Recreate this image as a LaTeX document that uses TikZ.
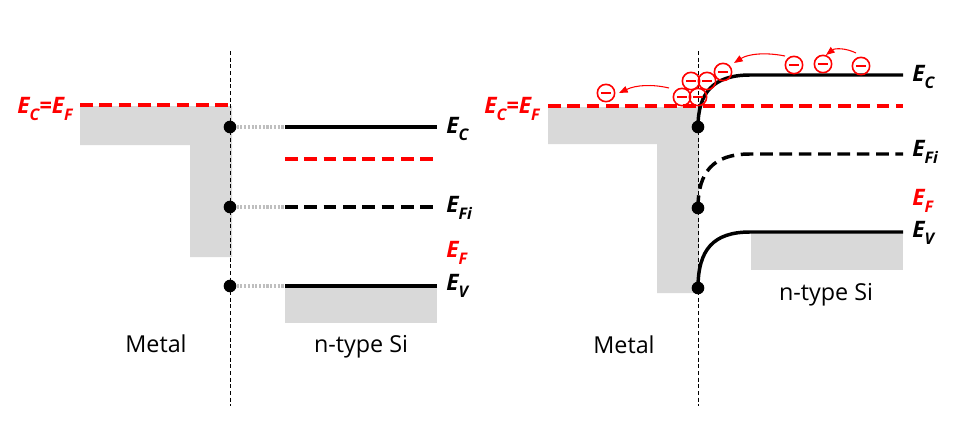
\documentclass[tikz,border=0pt]{standalone}
\usepackage{fontspec}
\setmainfont{Open Sans}
\usetikzlibrary{arrows.meta}
\definecolor{bandgray}{HTML}{D9D9D9}
\definecolor{tiegray}{HTML}{BFBFBF}
\newcommand{\En}[1]{E\raisebox{-0.6ex}{\fontsize{12}{12}\selectfont #1}}
\begin{document}
\begin{tikzpicture}[x=0.75pt,y=-0.75pt,
  level/.style={line width=2.6pt},
  leveldash/.style={line width=2.6pt, dash pattern=on 9.5pt off 5pt},
  fermi/.style={red, line width=2.6pt, dash pattern=on 9.5pt off 5pt},
  iface/.style={line width=0.7pt, dash pattern=on 3pt off 2pt},
  tie/.style={tiegray, line width=2.6pt, dash pattern=on 1.6pt off 1.2pt},
  dotnode/.style={circle, fill=black, inner sep=0pt, minimum size=9.5pt},
  band/.style={fill=bandgray, draw=none},
  elab/.style={font=\fontsize{17}{18}\selectfont\bfseries\itshape, anchor=base west, inner sep=0pt},
  eqlab/.style={font=\fontsize{17}{18}\selectfont\bfseries\itshape, anchor=base east, inner sep=0pt, text=red},
  mlab/.style={font=\fontsize{17.5}{20}\selectfont, anchor=base, inner sep=0pt},
  electron/.style={circle, draw=red, line width=1.2pt, minimum size=13pt, inner sep=0pt,
    path picture={\draw[red,line width=1.2pt] ([xshift=-3.9pt]path picture bounding box.center) -- ([xshift=3.9pt]path picture bounding box.center);}},
  hop/.style={red, line width=0.8pt, -{Triangle[length=6.5pt,width=5pt]}}
]
\useasboundingbox (0,0) rectangle (957,426);

% ================= LEFT DIAGRAM =================
\fill[band] (80,106) -- (232,106) -- (232,257) -- (190,257) -- (190,145) -- (80,145) -- cycle;
\fill[band] (285,285) rectangle (437,323);

\coordinate (LfA) at (80,105);
\coordinate (LfB) at (230,105);
\draw[fermi] (LfA) -- (LfB);

\coordinate (LiTop) at (230,51);
\coordinate (LiBot) at (230,406);
\draw[iface] (LiTop) -- (LiBot);

\node[dotnode] (LdC) at (230,127) {};
\node[dotnode] (LdI) at (230,207) {};
\node[dotnode] (LdV) at (230,286) {};

\coordinate (LcA) at (285,127);  \coordinate (LcB) at (437,127);
\coordinate (LfsA) at (285,159); \coordinate (LfsB) at (437,159);
\coordinate (LiA) at (285,207);  \coordinate (LiB) at (437,207);
\coordinate (LvA) at (285,286);  \coordinate (LvB) at (437,286);

\draw[tie] (LdC.east) -- (LcA);
\draw[tie] (LdI.east) -- (LiA);
\draw[tie] (LdV.east) -- (LvA);

\draw[level] (LcA) -- (LcB);
\draw[fermi] (LfsA) -- (LfsB);
\draw[leveldash] (LiA) -- (LiB);
\draw[level] (LvA) -- (LvB);

\node[eqlab] (LEq) at (73,113) {\En{C}=\En{F}};
\node[elab] (LEC) at (446,133) {\En{C}};
\node[elab] (LEFi) at (446,212) {\En{Fi}};
\node[elab, text=red] (LEF) at (446,257) {\En{F}};
\node[elab] (LEV) at (446,290) {\En{V}};

\node[mlab] (LMetal) at (156,352) {Metal};
\node[mlab] (LSi) at (361,352) {n-type Si};

% ================= RIGHT DIAGRAM =================
\fill[band] (548,107) -- (699,107) -- (699,293) -- (657,293) -- (657,144) -- (548,144) -- cycle;
\fill[band] (751,232) rectangle (903,270);

\coordinate (RfA) at (548,106);
\coordinate (RfB) at (903,106);
\draw[fermi] (RfA) -- (RfB);

\coordinate (RiTop) at (698,51);
\coordinate (RiBot) at (698,406);
\draw[iface] (RiTop) -- (RiBot);

\node[dotnode] (RdC) at (698,127) {};
\node[dotnode] (RdI) at (698,208) {};
\node[dotnode] (RdV) at (698,288) {};

\coordinate (RcK) at (750,75);  \coordinate (RcB) at (903,75);
\coordinate (RiK) at (750,154); \coordinate (RiB) at (903,154);
\coordinate (RvK) at (750,232); \coordinate (RvB) at (903,232);

\draw[level] (RdC.center) .. controls (698,93) and (713,75) .. (RcK) -- (RcB);
\draw[leveldash] (RdI.center) .. controls (698,172) and (713,154) .. (RiK) -- (RiB);
\draw[level] (RdV.center) .. controls (698,250) and (713,232) .. (RvK) -- (RvB);

\node[eqlab] (REq) at (540,113) {\En{C}=\En{F}};
\node[elab] (REC) at (912,81) {\En{C}};
\node[elab] (REFi) at (912,156) {\En{Fi}};
\node[elab, text=red] (REF) at (912,205) {\En{F}};
\node[elab] (REV) at (912,237) {\En{V}};

\node[mlab] (RMetal) at (624,353) {Metal};
\node[mlab] (RSi) at (826,300) {n-type Si};

% electrons
\node[electron] (e1) at (606,93) {};
\node[electron] (e2) at (682,97) {};
\node[electron] (e3) at (698,97) {};
\node[electron] (e4) at (691,81) {};
\node[electron] (e5) at (707,81) {};
\node[electron] (e6) at (723,72) {};
\node[electron] (e7) at (794,65) {};
\node[electron] (e8) at (823,64) {};
\node[electron] (e9) at (861,66) {};

% hopping arrows
\coordinate (h1s) at (669,88); \coordinate (h1e) at (619,93);
\coordinate (h2s) at (785,56); \coordinate (h2e) at (734,63);
\coordinate (h3s) at (856,53); \coordinate (h3e) at (826,55);
\draw[hop] (h1s) .. controls (652,84) and (636,85) .. (h1e);
\draw[hop] (h2s) .. controls (765,52) and (748,54) .. (h2e);
\draw[hop] (h3s) .. controls (846,48) and (835,48) .. (h3e);
\end{tikzpicture}
\end{document}
